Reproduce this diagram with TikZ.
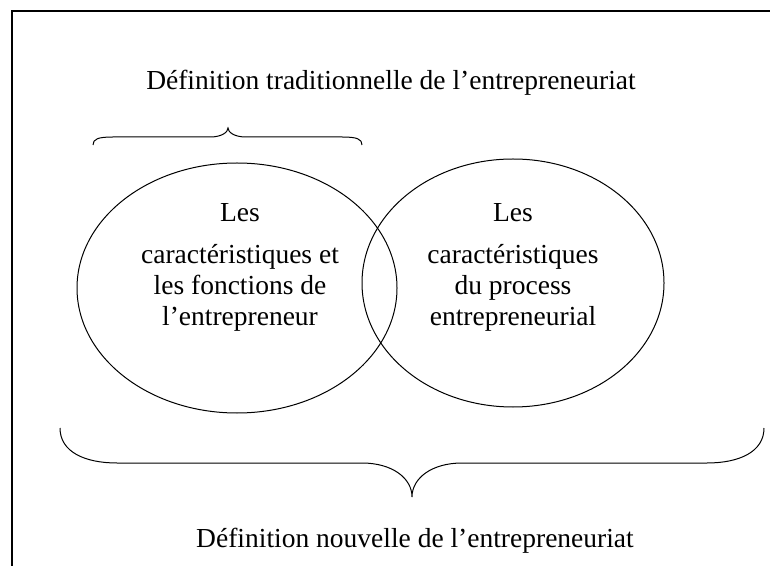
\documentclass[tikz,border=0pt]{standalone}
\usepackage{fontspec}
\setmainfont{Liberation Serif}
\usetikzlibrary{shapes.geometric}

\begin{document}
\begin{tikzpicture}[x=0.5pt, y=-0.5pt,
    every node/.style={font=\fontsize{13.75}{15.5}\selectfont},
    bubble/.style={draw, ellipse, line width=0.5pt, inner sep=0pt},
    bubble text/.style={align=center, inner sep=0pt},
    brace/.style={line width=0.5pt}]
    \clip (0, 0) rectangle (770, 566);
    % Frame, cut by the page on the right and at the bottom
    \draw[line width=1.15pt] (12, 11) rectangle (800, 600);

    \node[anchor=base] (oldDef) at (391, 90) {Définition traditionnelle de l’entrepreneuriat};
    \node[anchor=base] (newDef) at (415, 547) {Définition nouvelle de l’entrepreneuriat};

    % The two ellipses
    \node[bubble, minimum width=160pt, minimum height=125pt] (person) at (237, 288) {};
    \node[bubble, minimum width=151pt, minimum height=124pt] (process) at (513, 283) {};
    \node[bubble text] (personText) at (240, 267)
      {Les\\[5.5pt]caractéristiques et\\les fonctions de\\l’entrepreneur};
    \node[bubble text] (processText) at (513, 267)
      {Les\\[5.5pt]caractéristiques\\du process\\entrepreneurial};

    % Upper brace
    \coordinate (A) at (93, 145);
    \coordinate (B) at (228, 128);
    \coordinate (C) at (362, 145);
    \draw[brace] (A) .. controls (93, 139) and (98, 137) .. (113, 137)
      -- (210, 137) .. controls (222, 137) and (228, 132) .. (B)
      .. controls (228, 132) and (234, 137) .. (246, 137)
      -- (342, 137) .. controls (357, 137) and (362, 139) .. (C);

    % Lower brace
    \coordinate (D) at (60, 428);
    \coordinate (E) at (412, 497);
    \coordinate (F) at (764, 428);
    \draw[brace] (D) .. controls (60, 452) and (85, 463) .. (117, 463)
      -- (362, 463) .. controls (392, 463) and (412, 478) .. (E)
      .. controls (412, 478) and (432, 463) .. (462, 463)
      -- (707, 463) .. controls (739, 463) and (764, 452) .. (F);
\end{tikzpicture}
\end{document}
